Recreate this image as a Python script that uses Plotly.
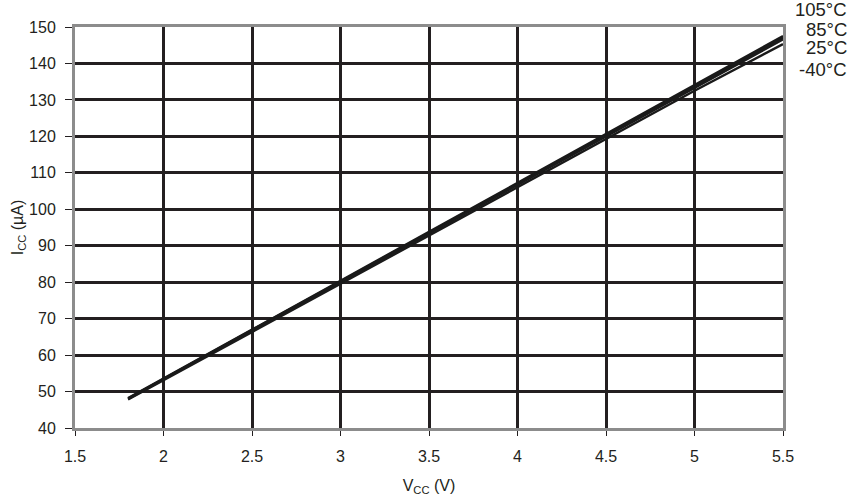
import plotly.graph_objects as go

vcc = [1.8, 2.0, 2.5, 3.0, 3.5, 4.0, 4.5, 5.0, 5.5]
icc_105 = [48.2, 53.6, 67.0, 80.4, 93.8, 107.2, 120.6, 134.0, 147.5]
icc_85 = [48.1, 53.5, 66.9, 80.2, 93.6, 107.0, 120.3, 133.7, 147.1]
icc_25 = [48.0, 53.4, 66.7, 80.0, 93.4, 106.7, 120.0, 133.3, 146.6]
icc_m40 = [47.8, 53.1, 66.3, 79.6, 92.8, 106.0, 119.3, 132.5, 145.3]
series_names = ["105°C", "85°C", "25°C", "-40°C"]
series_vals = [icc_105, icc_85, icc_25, icc_m40]
label_pos = [1.043, 0.995, 0.948, 0.893]

fig = go.Figure()
for name, vals in zip(series_names, series_vals):
    fig.add_trace(go.Scatter(x=vcc, y=vals, mode="lines", name=name,
                             line=dict(color="#1a1a1a", width=2.4)))

for name, ly in zip(series_names, label_pos):
    fig.add_annotation(x=1.0, xref="paper", xanchor="right", y=ly, yref="paper",
                       yanchor="middle", text=name, showarrow=False,
                       xshift=66, font=dict(size=18.5, color="#231f20"))

axis_font = dict(family="Liberation Sans, Arial, sans-serif", size=16, color="#231f20")
fig.update_layout(
    width=849, height=498,
    margin=dict(l=75, r=66, t=27, b=70),
    paper_bgcolor="white", plot_bgcolor="white",
    showlegend=False,
    font=dict(family="Liberation Sans, Arial, sans-serif", color="#231f20"),
    xaxis=dict(range=[1.5, 5.5], dtick=0.5, tick0=1.5, showgrid=True,
               gridcolor="#231f20", gridwidth=3, ticks="outside", ticklen=5,
               tickcolor="#231f20", tickfont=axis_font, ticklabelstandoff=7,
               showline=True, linecolor="#8c8c8c", linewidth=3, mirror=True,
               zeroline=False, automargin=False,
               title=dict(text="V<sub>CC</sub> (V)", font=dict(size=16), standoff=16)),
    yaxis=dict(range=[40, 150], dtick=10, showgrid=True,
               gridcolor="#231f20", gridwidth=3, ticks="outside", ticklen=7,
               tickcolor="#231f20", tickfont=axis_font, ticklabelstandoff=6,
               showline=True, linecolor="#8c8c8c", linewidth=3, mirror=True,
               zeroline=False, automargin=False,
               title=dict(text="I<sub>CC</sub> (µA)", font=dict(size=16), standoff=2)),
)

fig.write_html("out.html", config={"displayModeBar": False},
               post_script="document.body.style.margin='0';")
